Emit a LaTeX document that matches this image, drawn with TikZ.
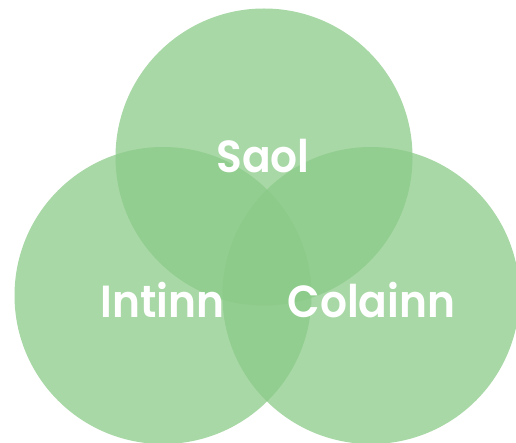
\documentclass[tikz,border=0pt]{standalone}
\usepackage{fontspec}
\newfontfamily\lab{Poppins SemiBold}
\definecolor{vgreen}{RGB}{138,202,135}
\begin{document}
\begin{tikzpicture}[x=1pt,y=-1pt,
  venn/.style={fill=vgreen,fill opacity=0.74,draw=none},
  lbl/.style={text=white,font=\lab\fontsize{45}{45}\selectfont,inner sep=0pt,anchor=base,xscale=0.94}]
\useasboundingbox (0,0) rectangle (516,443);
\clip (0,0) rectangle (516,443);
\fill[venn] (264,157) circle (148.5);
\fill[venn] (163,295.5) circle (148.5);
\fill[venn] (371,295.5) circle (148.5);
\node[lbl] (saol) at (263,173) {Saol};
\node[lbl] (intinn) at (162.5,317) {Intinn};
\node[lbl] (colainn) at (371.5,317) {Colainn};
\end{tikzpicture}
\end{document}
